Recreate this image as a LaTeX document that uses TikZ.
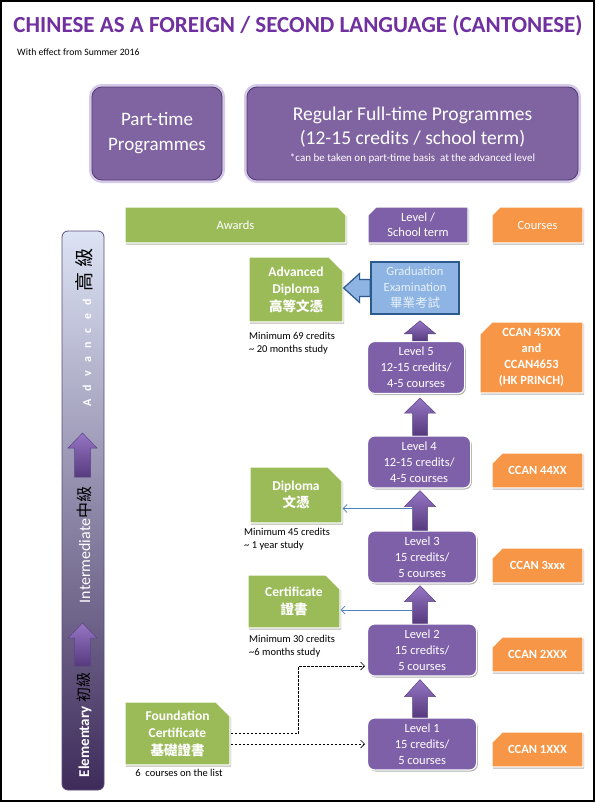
\documentclass[tikz,border=0pt]{standalone}
\usepackage{fontspec}
\setmainfont{Carlito}
\newfontfamily\cjk{Noto Sans CJK TC}
\usetikzlibrary{calc,shapes.misc,shadows,arrows.meta}

\definecolor{ttl}{HTML}{7030A0}
\definecolor{pboxc}{HTML}{8064A2}
\definecolor{pbord}{HTML}{4E3A6E}
\definecolor{glow}{HTML}{D5C8E8}
\definecolor{lvl}{HTML}{7E60A8}
\definecolor{grn}{HTML}{9BBB59}
\definecolor{org}{HTML}{F79646}
\definecolor{gradf}{HTML}{8DB4E2}
\definecolor{gradd}{HTML}{2C5A8E}
\definecolor{gradt}{HTML}{E8F0FA}
\definecolor{thinb}{HTML}{4F81BD}
\definecolor{arrl}{HTML}{9676C4}
\definecolor{arrd}{HTML}{563A7E}
\definecolor{arrb}{HTML}{5E4487}
\definecolor{bartop}{HTML}{DCE3F4}
\definecolor{barmid}{HTML}{A5ACDA}
\definecolor{barbot}{HTML}{3E2B5A}
\definecolor{barb}{HTML}{5B4D7A}

% generic up-pointing block arrow: [style]{bottom}{tip}{shaft half}{head half}{head length}
\newcommand{\blockup}[6][pup]{%
  \path[#1] let \p1=(#2), \p2=(#3) in
    ({\x1-#4pt},\y1) -- ({\x1-#4pt},{\y2-#6pt}) -- ({\x1-#5pt},{\y2-#6pt}) -- (\x1,\y2)
    -- ({\x1+#5pt},{\y2-#6pt}) -- ({\x1+#4pt},{\y2-#6pt}) -- ({\x1+#4pt},\y1) -- cycle;}

\begin{document}
\begin{tikzpicture}[x=1pt,y=-1pt,
  shad/.style={drop shadow={shadow xshift=1.2pt, shadow yshift=-1.5pt, opacity=0.3, fill=black}},
  bigbox/.style={rectangle, rounded corners=10pt, fill=pboxc, draw=pbord, line width=0.8pt,
     preaction={draw=glow, line width=6pt}, text=white, align=center, inner sep=0pt},
  hdr/.style={chamfered rectangle, chamfered rectangle corners=north east,
     chamfered rectangle xsep=4pt, chamfered rectangle ysep=4pt, draw=white, line width=1.2pt,
     shad, text=white, font=\fontsize{12.5}{15}\selectfont, align=center, inner sep=0pt},
  lvlbox/.style={rectangle, rounded corners=7pt, fill=lvl, draw=white, line width=1.2pt, shad,
     text=white, align=center, font=\fontsize{12.5}{16}\selectfont, inner sep=0pt,
     anchor=west, minimum height=52pt},
  awd/.style={chamfered rectangle, chamfered rectangle corners=north east,
     chamfered rectangle xsep=7pt, chamfered rectangle ysep=7pt, fill=grn, draw=white,
     line width=1.2pt, shad, text=white, align=center,
     font=\bfseries\fontsize{13.5}{17.5}\selectfont, inner sep=0pt},
  crs/.style={chamfered rectangle, chamfered rectangle corners=north west,
     chamfered rectangle xsep=6pt, chamfered rectangle ysep=6pt, fill=org, draw=white,
     line width=1.2pt, shad, text=white, align=center,
     font=\bfseries\fontsize{12.5}{16}\selectfont, inner sep=0pt, minimum width=91pt, minimum height=35pt},
  gradbox/.style={rectangle, fill=gradf, draw=gradd, line width=1.5pt, text=gradt, align=center,
     font=\fontsize{12.5}{16}\selectfont, inner sep=0pt},
  note/.style={font=\fontsize{10.5}{13.5}\selectfont, align=left, anchor=north west, inner sep=0pt},
  pup/.style={draw=arrb, line width=0.5pt, top color=arrl, bottom color=arrd},
  gradarr/.style={fill=gradf, draw=gradd, line width=1.2pt},
  barst/.style={rectangle, rounded corners=6pt, draw=barb, line width=0.8pt,
     top color=bartop, middle color=barmid, bottom color=barbot},
  thinarr/.style={draw=thinb, line width=0.8pt, -{Straight Barb[length=4pt,width=8pt]}},
  dasharr/.style={draw=black, line width=0.7pt, dash pattern=on 2.5pt off 1.5pt,
     -{Straight Barb[length=4pt,width=8pt]}},
  bartext/.style={rotate=90, inner sep=0pt}
]
\useasboundingbox (0,0) rectangle (595,803);
\fill[white] (0,0) rectangle (595,803);
\draw[line width=2pt] (1,1) rectangle (593.5,801);

% title
\node[font=\bfseries\fontsize{25}{30}\selectfont, text=ttl, inner sep=0pt] (title) at (298,26)
  {\resizebox{569pt}{!}{CHINESE AS A FOREIGN / SECOND LANGUAGE (CANTONESE)}};
\node[anchor=west, font=\fontsize{9.7}{11}\selectfont, inner sep=0pt] (eff) at (17,52)
  {With effect from Summer 2016};

% programme boxes
\node[bigbox, minimum width=130pt, minimum height=93pt, font=\fontsize{19}{25}\selectfont]
  (pt) at (157,133.5) {Part-time\\Programmes};
\node[bigbox, minimum width=331pt, minimum height=93pt] (reg) at (412.5,133.5) {};
\node[font=\fontsize{19.5}{24}\selectfont, text=white, align=center, inner sep=0pt]
  (regt) at (412.5,127) {Regular Full-time Programmes\\(12-15 credits / school term)};
\node[font=\fontsize{11}{12}\selectfont, text=white, inner sep=0pt]
  (regn) at (412.5,158) {*can be taken on part-time basis\ \ at the advanced level};

% headers
\node[hdr, fill=grn, minimum width=221pt, minimum height=36pt] (hawd) at (235.5,225) {Awards};
\node[hdr, fill=lvl, chamfered rectangle corners=north west, minimum width=100pt, minimum height=36pt]
  (hlvl) at (418,225) {Level /\\School term};
\node[hdr, fill=org, chamfered rectangle corners=north west, minimum width=91pt, minimum height=36pt]
  (hcrs) at (537.5,225) {Courses};

% left level bar
\node[barst, minimum width=42pt, minimum height=559pt] (bar) at (83,510.5) {};
\node[bartext, font=\fontsize{15}{18}\selectfont] (tel) at (84,725)
  {{\bfseries\color{white}Elementary} {\cjk 初級}};
\node[bartext, font=\fontsize{16}{18}\selectfont] (tin) at (84,545)
  {{\color{white}Intermediate}{\cjk 中級}};
\node[bartext, font=\fontsize{12}{18}\selectfont] (tadv) at (84,327.5)
  {{\bfseries\color{white}\addfontfeature{LetterSpace=70}Advanced}\hspace{8pt}{\fontsize{19}{20}\selectfont\cjk 高\hspace{5pt}級}};
\coordinate (ba1) at (82.5,666); \coordinate (ta1) at (82.5,623);
\coordinate (ba2) at (82.5,477); \coordinate (ta2) at (82.5,433);
\blockup{ba1}{ta1}{8}{14.5}{15}
\blockup{ba2}{ta2}{8}{14.5}{15}

% awards
\node[awd, minimum width=94pt, minimum height=65pt] (advdip) at (296,289.5)
  {Advanced\\Diploma\\{\cjk 高等文憑}};
\node[awd, minimum width=92pt, minimum height=56pt] (dip) at (296,495)
  {Diploma\\{\cjk 文憑}};
\node[awd, minimum width=92pt, minimum height=53pt] (cert) at (294,601.5)
  {Certificate\\{\cjk 證書}};
\node[awd, minimum width=105pt, minimum height=63pt] (found) at (177.5,733.5)
  {Foundation\\Certificate\\{\cjk 基礎證書}};

\node[note] (advn) at (249,332) {Minimum 69 credits\\\textasciitilde{} 20 months study};
\node[note] (dipn) at (244,528) {Minimum 45 credits\\\textasciitilde{} 1 year study};
\node[note] (certn) at (249,635) {Minimum 30 credits\\\textasciitilde 6 months study};
\node[note, anchor=north] (foundn) at (179,769) {6\ \ courses on the list};

% levels
\node[lvlbox, minimum width=97pt] (L5) at (367,367.5) {Level 5\\12-15 credits/\\4-5 courses};
\node[lvlbox, minimum width=103pt] (L4) at (367,462) {Level 4\\12-15 credits/\\4-5 courses};
\node[lvlbox, minimum width=109pt] (L3) at (367,557) {Level 3\\15 credits/\\5 courses};
\node[lvlbox, minimum width=109pt] (L2) at (367,650) {Level 2\\15 credits/\\5 courses};
\node[lvlbox, minimum width=109pt] (L1) at (367,744) {Level 1\\15 credits/\\5 courses};

% graduation examination
\node[gradbox, minimum width=88pt, minimum height=52pt] (grad) at (415,288)
  {Graduation\\Examination\\{\cjk 畢業考試}};
\path[gradarr] let \p1=(grad.west), \p2=(advdip.east) in
  (\x1,{\y1+8.5pt}) -- ({\x2+16pt},{\y1+8.5pt}) -- ({\x2+16pt},{\y1+14.5pt}) -- (\x2,\y1)
  -- ({\x2+16pt},{\y1-14.5pt}) -- ({\x2+16pt},{\y1-8.5pt}) -- (\x1,{\y1-8.5pt}) -- cycle;

% courses
\node[crs, minimum width=103pt, minimum height=71pt] (c45) at (531.5,357.5)
  {CCAN 45XX\\and\\CCAN4653\\(HK PRINCH)};
\node[crs] (c44) at (537.5,470.5) {CCAN 44XX};
\node[crs] (c3) at (537.5,565.5) {CCAN 3xxx};
\node[crs] (c2) at (537.5,654.5) {CCAN 2XXX};
\node[crs] (c1) at (537.5,749.5) {CCAN 1XXX};

% level arrows
\coordinate (ax) at (420,0);
\coordinate (t5) at ($(grad.south)+(0,6)$);
\coordinate (t4) at ($(L5.south)+(0,4)$);
\coordinate (t3) at ($(L4.south)+(0,2)$);
\coordinate (t2) at ($(L3.south)+(0,2)$);
\coordinate (t1) at ($(L2.south)+(0,3)$);
\coordinate (L5n) at (L5.north -| ax); \coordinate (t5x) at (t5 -| ax);
\coordinate (L4n) at (L4.north -| ax); \coordinate (t4x) at (t4 -| ax);
\coordinate (L3n) at (L3.north -| ax); \coordinate (t3x) at (t3 -| ax);
\coordinate (L2n) at (L2.north -| ax); \coordinate (t2x) at (t2 -| ax);
\coordinate (L1n) at (L1.north -| ax); \coordinate (t1x) at (t1 -| ax);
\blockup{L5n}{t5x}{7.5}{15.5}{13}
\blockup{L4n}{t4x}{7.5}{15.5}{15}
\blockup{L3n}{t3x}{7.5}{15.5}{16}
\blockup{L2n}{t2x}{7.5}{15.5}{16}
\blockup{L1n}{t1x}{7.5}{15.5}{17}

% thin award arrows
\coordinate (b3) at ($(L3n)!0.5!(t3x)+(-7.5,-2)$);
\coordinate (b2) at ($(L2n)!0.5!(t2x)+(-7.5,5.5)$);
\draw[thinarr] (b3) -- (b3 -| dip.east);
\draw[thinarr] (b2) -- (b2 -| cert.east);

% dashed arrows from foundation certificate
\coordinate (dk) at ($(found.east)+(68,0)$);
\coordinate (L2w) at ($(L2.west)+(-2,16)$);
\coordinate (L1w) at ($(L1.west)+(-2,0)$);
\draw[dasharr] (found.east) -- (dk) |- (L2w);
\draw[dasharr] (L1.west -| found.east) -- (L1w);
\end{tikzpicture}
\end{document}
